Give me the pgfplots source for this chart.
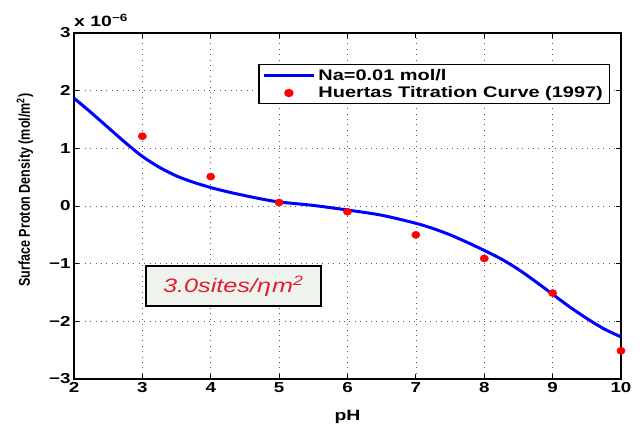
\documentclass[border=0pt]{standalone}
\usepackage{fontspec}
\setmainfont{Liberation Sans}
\newfontfamily\wf{Liberation Sans}[FakeStretch=1.3]
\usepackage{pgfplots}
\pgfplotsset{compat=1.18}
\definecolor{mblue}{RGB}{0,0,255}
\definecolor{mred}{RGB}{255,0,0}
\definecolor{txtred}{RGB}{226,30,45}
\definecolor{boxfill}{RGB}{238,243,238}
\begin{document}
\begin{tikzpicture}
\begin{axis}[
  name=ax,
  scale only axis,
  width=547bp, height=346bp,
  xmin=2, xmax=10, ymin=-3, ymax=3,
  xtick={2,3,4,5,6,7,8,9,10},
  xticklabels={2,3,4,5,6,7,8,9,10},
  ytick={-3,-2,-1,0,1,2,3},
  yticklabels={−3,−2,−1,0,1,2,3},
  tick label style={font=\wf\bfseries\fontsize{14.5}{16}\selectfont},
  tick align=inside,
  major tick length=5bp,
  tick style={black, line width=0.8bp},
  axis line style={black, line width=1.3bp},
  grid=major,
  major grid style={black!65, line width=0.7bp, dash pattern=on 0.8bp off 4.6bp},
  xlabel={pH},
  ylabel={\scalebox{1}[1.25]{Surface Proton Density (mol/m\textsuperscript{2})}},
  xlabel style={font=\wf\bfseries\fontsize{15}{17}\selectfont, at={(axis description cs:0.5,-0.11)}, anchor=center},
  ylabel style={font=\bfseries\fontsize{12.6}{15}\selectfont, at={(axis description cs:-0.0896,0.546)}, anchor=center},
  legend style={at={(rel axis cs:0.9799,0.9104)}, anchor=north east, draw=black, line width=1.2bp,
    font=\wf\bfseries\fontsize{15.4}{17}\selectfont, inner xsep=3.5bp, inner ysep=2bp, row sep=0bp,
    nodes={inner xsep=3bp, inner ysep=2.5bp},
    legend cell align=left},
  clip=false,
]
\addplot[mblue, line width=3bp, smooth,
  legend image code/.code={\draw[mblue, line width=3bp] (0bp,0bp) -- (50bp,0bp);}]
  coordinates {
  (2.0,1.87) (2.25,1.62) (2.5,1.36) (2.75,1.10) (3.0,0.86) (3.25,0.67)
  (3.5,0.52) (3.75,0.41) (4.0,0.32) (4.25,0.245) (4.5,0.18) (4.75,0.12)
  (5.0,0.07) (5.5,0.01) (6.0,-0.07) (6.5,-0.16) (7.0,-0.30) (7.25,-0.39)
  (7.5,-0.50) (7.75,-0.63) (8.0,-0.77) (8.25,-0.92) (8.5,-1.10) (8.75,-1.31)
  (9.0,-1.53) (9.25,-1.75) (9.5,-1.95) (9.75,-2.13) (10.0,-2.27)};
\addlegendentry{Na=0.01 mol/l}
\addplot[only marks, mark=*, mark size=3.6bp, color=mred, mark options={xscale=1.15},
  legend image code/.code={\fill[mred] (25bp,0bp) ellipse (4.1bp and 3.6bp);}]
  coordinates {
  (3,1.21) (4,0.51) (5,0.06) (6,-0.10) (7,-0.50) (8,-0.91) (9,-1.51) (10,-2.51)};
\addlegendentry{Huertas Titration Curve (1997)}
\node[draw=black, line width=1.5bp, fill=boxfill, minimum width=175bp, minimum height=40bp,
  text=txtred, font=\wf\itshape\fontsize{19.5}{22}\selectfont]
  at (axis cs:4.33,-1.39) {3.0sites/η\kern1bp m\textsuperscript{2}};
\node[anchor=south west, inner sep=0pt, font=\wf\bfseries\fontsize{15}{17}\selectfont]
  at ([yshift=6bp]rel axis cs:0,1) {x 10\textsuperscript{−6}};
\end{axis}
\path ([shift={(-74bp,-52bp)}]ax.south west) rectangle ([shift={(23bp,33bp)}]ax.north east);
\end{tikzpicture}
\end{document}
